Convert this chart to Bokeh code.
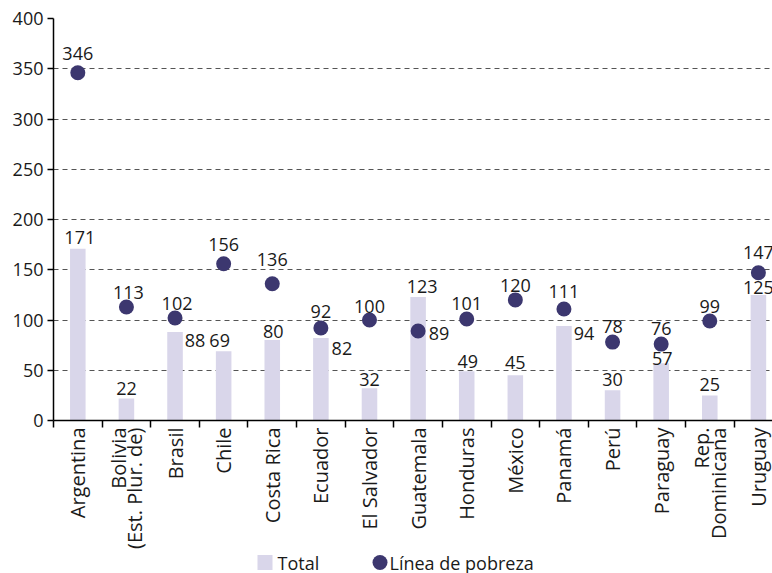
from math import pi

from bokeh.core.properties import value
from bokeh.embed import file_html
from bokeh.layouts import column
from bokeh.models import ColumnDataSource, FixedTicker, Range1d
from bokeh.plotting import figure
from bokeh.resources import INLINE

# Data
countries = ["Argentina", "Bolivia\n(Est. Plur. de)", "Brasil", "Chile", "Costa Rica",
             "Ecuador", "El Salvador", "Guatemala", "Honduras", "México", "Panamá",
             "Perú", "Paraguay", "Rep.\nDominicana", "Uruguay"]
total = [171, 22, 88, 69, 80, 82, 32, 123, 49, 45, 94, 30, 57, 25, 125]
linea_pobreza = [346, 113, 102, 156, 136, 92, 100, 89, 101, 120, 111, 78, 76, 99, 147]
y_ticks = [0, 50, 100, 150, 200, 250, 300, 350, 400]
series_names = ["Total", "Línea de pobreza"]

# Label placement (screen px offsets from the mark)
total_dx = [2, 0, 20, -4, 1, 21, 0, 4, 1, 0, 20, 0, 1, 0, 0]
total_dy = [-11, -10, 8, -11, -9, 10, -9, -10, -10, -13, 7, -11, -5, -11, -7]
linea_dx = [0, 2, 2, 0, 0, 0, 0, 21, 0, 0, 0, 0, 0, 0, 0]
linea_dy = [-19, -14, -14, -19, -24, -17, -14, 2, -15, -14, -17, -16, -16, -15, -20]

FONT = "Open Sans"
BAR_COLOR = "#d9d6ea"
DOT_COLOR = "#3c376f"
TEXT_COLOR = "#1a1a1a"

xs = list(range(len(countries)))
src = ColumnDataSource(dict(
    x=xs, total=total, linea=linea_pobreza,
    total_lbl=[str(v) for v in total], linea_lbl=[str(v) for v in linea_pobreza],
    tdx=total_dx, tdy=total_dy, ldx=linea_dx, ldy=linea_dy,
))

p = figure(frame_width=719, frame_height=402, output_backend="svg",
           toolbar_location=None,
           x_range=Range1d(-0.5, 14.29), y_range=Range1d(0, 400),
           min_border_left=53, min_border_right=0, min_border_top=18,
           min_border_bottom=0)
p.outline_line_color = None
p.background_fill_color = "white"
p.border_fill_color = "white"

p.vbar(x="x", top="total", width=0.32, source=src,
       fill_color=BAR_COLOR, line_color=None)
p.scatter(x="x", y="linea", size=15, source=src,
          fill_color=DOT_COLOR, line_color=None)

p.text(x="x", y="total", text="total_lbl", x_offset="tdx", y_offset="tdy",
       source=src, text_font=value(FONT), text_font_size="18px",
       text_color=TEXT_COLOR, text_align="center", text_baseline="middle")
p.text(x="x", y="linea", text="linea_lbl", x_offset="ldx", y_offset="ldy",
       source=src, text_font=value(FONT), text_font_size="18px",
       text_color=TEXT_COLOR, text_align="center", text_baseline="middle")

# Grid
p.xgrid.grid_line_color = None
p.ygrid.ticker = FixedTicker(ticks=y_ticks)
p.ygrid.grid_line_color = "#555555"
p.ygrid.grid_line_dash = "5 4"
p.ygrid.grid_line_width = 1

# Y axis
ya = p.yaxis[0]
ya.ticker = FixedTicker(ticks=y_ticks)
ya.axis_line_color = "black"
ya.axis_line_width = 1.5
ya.major_tick_line_color = "black"
ya.major_tick_line_width = 1.5
ya.major_tick_out = 6
ya.major_tick_in = 0
ya.minor_tick_line_color = None
ya.major_label_standoff = 4
ya.major_label_text_font = FONT
ya.major_label_text_font_size = "18px"
ya.major_label_text_color = TEXT_COLOR

# X axis: labels at category centres, ticks at category boundaries
xa = p.xaxis[0]
xa.ticker = FixedTicker(ticks=xs, minor_ticks=[i - 0.5 for i in range(len(xs) + 1)])
xa.major_label_overrides = {i: name for i, name in enumerate(countries)}
xa.major_label_orientation = pi / 2
xa.axis_line_color = "black"
xa.axis_line_width = 1.5
xa.major_tick_line_color = None
xa.major_tick_out = 0
xa.major_tick_in = 0
xa.minor_tick_line_color = "black"
xa.minor_tick_line_width = 1.5
xa.minor_tick_out = 7
xa.minor_tick_in = 0
xa.major_label_standoff = 0
xa.major_label_text_font = FONT
xa.major_label_text_font_size = "20px"
xa.major_label_text_line_height = 0.62
xa.major_label_text_color = TEXT_COLOR

# Legend strip under the chart; its frame lines up with the chart frame,
# so x is given in page pixels and y in pixels of the strip
LEG_H = 40
leg = figure(frame_width=719, frame_height=LEG_H, output_backend="svg",
             toolbar_location=None, x_range=Range1d(53, 772),
             y_range=Range1d(0, LEG_H), min_border=0, min_border_left=53)
leg.axis.visible = False
leg.grid.visible = False
leg.outline_line_color = None
leg.border_fill_color = "white"
leg.background_fill_color = "white"
leg_y = 29
leg.rect(x=[264.5], y=[leg_y], width=15, height=15,
         fill_color=BAR_COLOR, line_color=None)
leg.scatter(x=[379.5], y=[leg_y], size=15, fill_color=DOT_COLOR, line_color=None)
leg.text(x=[277, 389], y=[leg_y, leg_y], text=series_names,
         text_font=value(FONT), text_font_size="18px", text_color=TEXT_COLOR,
         text_align="left", text_baseline="middle")

layout = column(p, leg, spacing=0)
open("out.html", "w").write(file_html(layout, INLINE))
